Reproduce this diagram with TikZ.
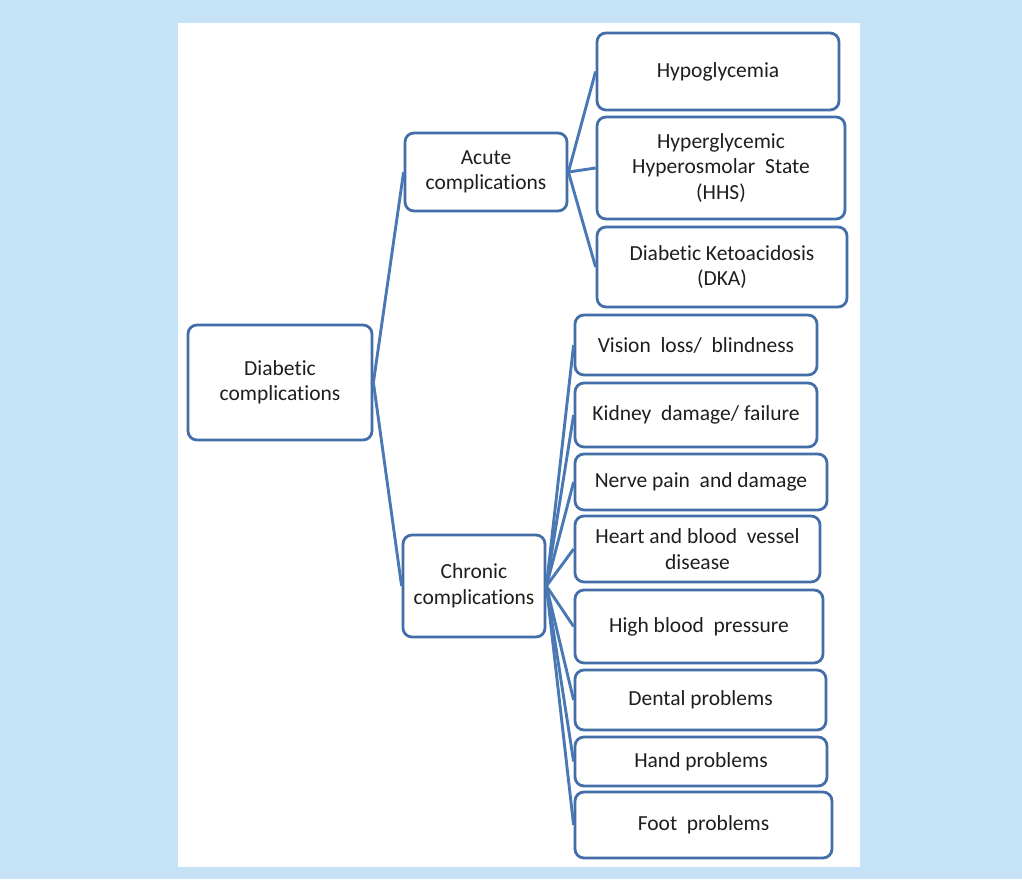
\documentclass[tikz,border=0pt]{standalone}
\usepackage{fontspec}
\setmainfont{Carlito}[RawFeature=-liga]
\definecolor{bgblue}{RGB}{197,226,246}
\definecolor{linkblue}{RGB}{74,120,180}
\definecolor{boxblue}{RGB}{68,110,168}
\definecolor{txt}{RGB}{30,30,30}
\begin{document}
\begin{tikzpicture}[x=1pt,y=-1pt,
  box/.style={draw=boxblue,line width=2.8pt,rounded corners=9pt,fill=white,
    inner sep=0pt,align=center,text=txt,font=\fontsize{21.5}{25.5}\selectfont},
  link/.style={draw=linkblue,line width=2.9pt}]
\useasboundingbox (0,0) rectangle (1022,879);
\fill[bgblue] (0,0) rectangle (1022,879);
\fill[white] (178,23) rectangle (860,867);
% nodes
\node[box,minimum width=184pt,minimum height=115pt] (root) at (280,382.5) {Diabetic\\complications};
\node[box,minimum width=162pt,minimum height=78pt] (acute) at (486,172) {Acute\\complications};
\node[box,minimum width=142pt,minimum height=102pt] (chronic) at (474,586) {Chronic\\complications};
\node[box,minimum width=242pt,minimum height=77pt] (hypo) at (718,71.5) {Hypoglycemia};
\node[box,minimum width=248pt,minimum height=102pt] (hhs) at (721,168) {Hyperglycemic\\Hyperosmolar\ \ State\\(HHS)};
\node[box,minimum width=250pt,minimum height=80pt] (dka) at (722,267) {Diabetic Ketoacidosis\\(DKA)};
\node[box,minimum width=242pt,minimum height=60pt] (vision) at (696,345) {Vision\ \ loss/\ \ blindness};
\node[box,minimum width=242pt,minimum height=64pt] (kidney) at (696,415) {Kidney\ \ damage/ failure};
\node[box,minimum width=252pt,minimum height=56pt] (nerve) at (701,482) {Nerve pain\ \ and damage};
\node[box,minimum width=245pt,minimum height=66pt] (heart) at (697.5,549) {Heart and blood\ \ vessel\\disease};
\node[box,minimum width=248pt,minimum height=73pt] (hbp) at (699,626.5) {High blood\ \ pressure};
\node[box,minimum width=251pt,minimum height=60pt] (dental) at (700.5,700) {Dental problems};
\node[box,minimum width=252pt,minimum height=49pt] (hand) at (701,761.5) {Hand problems};
\node[box,minimum width=257pt,minimum height=66pt] (foot) at (703.5,825) {Foot\ \ problems};
% connectors
\draw[link] (root.east) -- (acute.west);
\draw[link] (root.east) -- (chronic.west);
\foreach \c in {hypo,hhs,dka} \draw[link] (acute.east) -- (\c.west);
\foreach \c in {vision,kidney,nerve,heart,hbp,dental,hand,foot} \draw[link] (chronic.east) -- (\c.west);
\end{tikzpicture}
\end{document}
